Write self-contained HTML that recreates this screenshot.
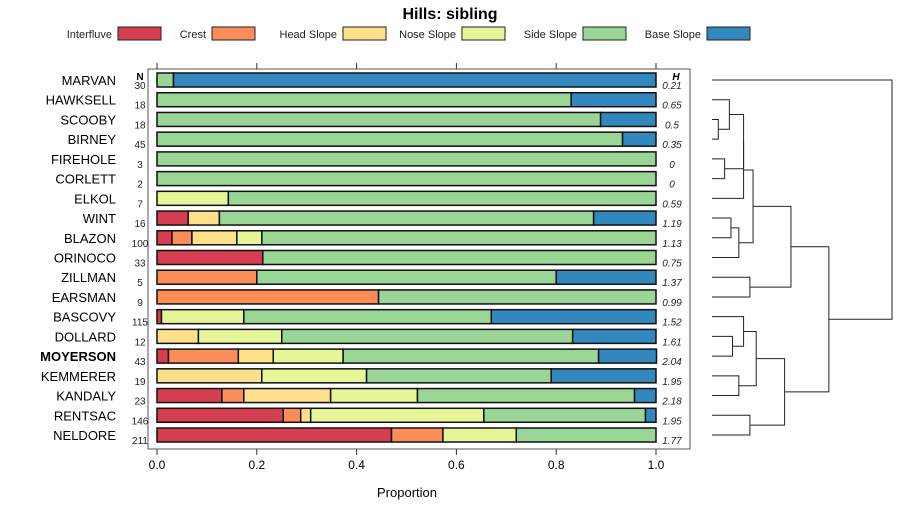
<!DOCTYPE html>
<html><head><meta charset="utf-8"><style>
body{margin:0;background:#fff;}
svg{display:block;font-family:"Liberation Sans",sans-serif;}
</style></head><body>
<svg id="c" width="900" height="520"></svg>
<script>
const names=["MARVAN","HAWKSELL","SCOOBY","BIRNEY","FIREHOLE","CORLETT","ELKOL","WINT","BLAZON","ORINOCO","ZILLMAN","EARSMAN","BASCOVY","DOLLARD","MOYERSON","KEMMERER","KANDALY","RENTSAC","NELDORE"];
const counts=[30,18,18,45,3,2,7,16,100,33,5,9,115,12,43,19,23,146,211];
const entropy=["0.21","0.65","0.5","0.35","0","0","0.59","1.19","1.13","0.75","1.37","0.99","1.52","1.61","2.04","1.95","2.18","1.95","1.77"];
const classes=["Interfluve","Crest","Head Slope","Nose Slope","Side Slope","Base Slope"];
const colors=["#D53E4F","#FC8D59","#FEE08B","#E6F598","#99D594","#3288BD"];
const interfluve=[0,0,0,0,0,0,0,0.0625,0.03,0.212,0,0,0.009,0,0.023,0,0.13,0.253,0.47];
const crest=[0,0,0,0,0,0,0,0,0.04,0,0.2,0.444,0,0,0.14,0,0.044,0.035,0.103];
const headSlope=[0,0,0,0,0,0,0,0.0625,0.09,0,0,0,0,0.083,0.07,0.21,0.174,0.02,0];
const noseSlope=[0,0,0,0,0,0,0.143,0,0.05,0,0,0,0.165,0.167,0.14,0.21,0.174,0.347,0.147];
const sideSlope=[0.033,0.83,0.889,0.933,1,1,0.857,0.75,0.79,0.788,0.6,0.556,0.496,0.583,0.512,0.37,0.435,0.324,0.28];
const baseSlope=[0.967,0.17,0.111,0.067,0,0,0,0.125,0,0,0.2,0,0.33,0.167,0.116,0.21,0.043,0.021,0];
const xTicks=[0,0.2,0.4,0.6,0.8,1.0];
const xTickLabels=["0.0","0.2","0.4","0.6","0.8","1.0"];
// dendrogram merges: [childA, childB, height]; negative = leaf index (-(i+1)), positive = merge number (1-based)
const merges=[[-3,-4,0.2],[-2,1,0.55],[-5,-6,0.4],[2,3,1.0],[4,-7,1.0],[-8,-9,0.6],[6,-10,0.85],[5,7,1.3],[-11,-12,1.2],[8,9,2.5],[-14,-15,0.65],[-13,11,1.0],[-16,-17,0.85],[12,13,1.4],[-18,-19,1.2],[14,15,2.3],[10,16,3.7],[-1,17,5.7]];
const series=[interfluve,crest,headSlope,noseSlope,sideSlope,baseSlope];
const S=document.getElementById('c');const NS="http://www.w3.org/2000/svg";
function mk(t,a,p){const e=document.createElementNS(NS,t);for(const k in a)e.setAttribute(k,a[k]);(p||S).appendChild(e);return e;}
const x0=157,x1=656;const xs=v=>x0+(x1-x0)*v;
const rowY=i=>80+i*(435-80)/(names.length-1);
const t=mk('text',{x:450,y:19,'text-anchor':'middle','font-size':16,'font-weight':'bold'});t.textContent="Hills: sibling";


// legend
const lx=[[112,118],[206,212],[337,343],[456,462],[577,583],[701,707]];
classes.forEach((c,i)=>{const g=mk('g',{});


const tx=mk('text',{x:lx[i][0],y:38,'text-anchor':'end','font-size':11,fill:'#222'},g);tx.textContent=c;
mk('rect',{x:lx[i][1],y:27,width:43,height:13,fill:colors[i],stroke:'#222','stroke-width':1},g);});
// panel
const pb=mk('rect',{x:148,y:69,width:542,height:380,fill:'none',stroke:'#555','stroke-width':1});


let h=mk('text',{x:140,y:80,'text-anchor':'middle','font-size':10,'font-weight':'bold'});h.textContent="N";
h=mk('text',{x:676,y:80,'text-anchor':'middle','font-size':10,'font-weight':'bold','font-style':'italic'});h.textContent="H";
names.forEach((n,i)=>{const y=rowY(i);
const lb=mk('text',{x:116,y:y+5,'text-anchor':'end','font-size':13,'font-weight':n==="MOYERSON"?'bold':'normal'});lb.textContent=n;


const nt=mk('text',{x:140,y:y+9,'text-anchor':'middle','font-size':10,fill:'#222'});nt.textContent=counts[i];


const ht=mk('text',{x:672,y:y+9,'text-anchor':'middle','font-size':10,'font-style':'italic',fill:'#222'});ht.textContent=entropy[i];


let cum=0;series.forEach((s,k)=>{const v=s[i];if(v<=0)return;
const r=mk('rect',{x:xs(cum),y:y-7,width:xs(cum+v)-xs(cum),height:14,fill:colors[k],stroke:'#111','stroke-width':1.5});


cum+=v;});});
xTicks.forEach((v,i)=>{mk('line',{x1:xs(v),x2:xs(v),y1:449,y2:455,stroke:'#333'});mk('line',{x1:xs(v),x2:xs(v),y1:63,y2:69,stroke:'#333'});
const tl=mk('text',{x:xs(v),y:469,'text-anchor':'middle','font-size':12});tl.textContent=xTickLabels[i];

});
const xt=mk('text',{x:407,y:497,'text-anchor':'middle','font-size':13});xt.textContent="Proportion";


// dendrogram
const dx0=712,dx1=892,hmax=5.7;const dxs=hh=>dx0+(dx1-dx0)*hh/hmax;
const node=[];
function pos(c){return c<0?{x:dx0,y:rowY(-c-1)}:node[c-1];}
merges.forEach(m=>{const a=pos(m[0]),b=pos(m[1]),hx=dxs(m[2]);
const p=mk('path',{d:`M${a.x},${a.y}H${hx}V${b.y}H${b.x}`,fill:'none',stroke:'#222','stroke-width':1});


node.push({x:hx,y:(a.y+b.y)/2});});
</script>
</body></html>
